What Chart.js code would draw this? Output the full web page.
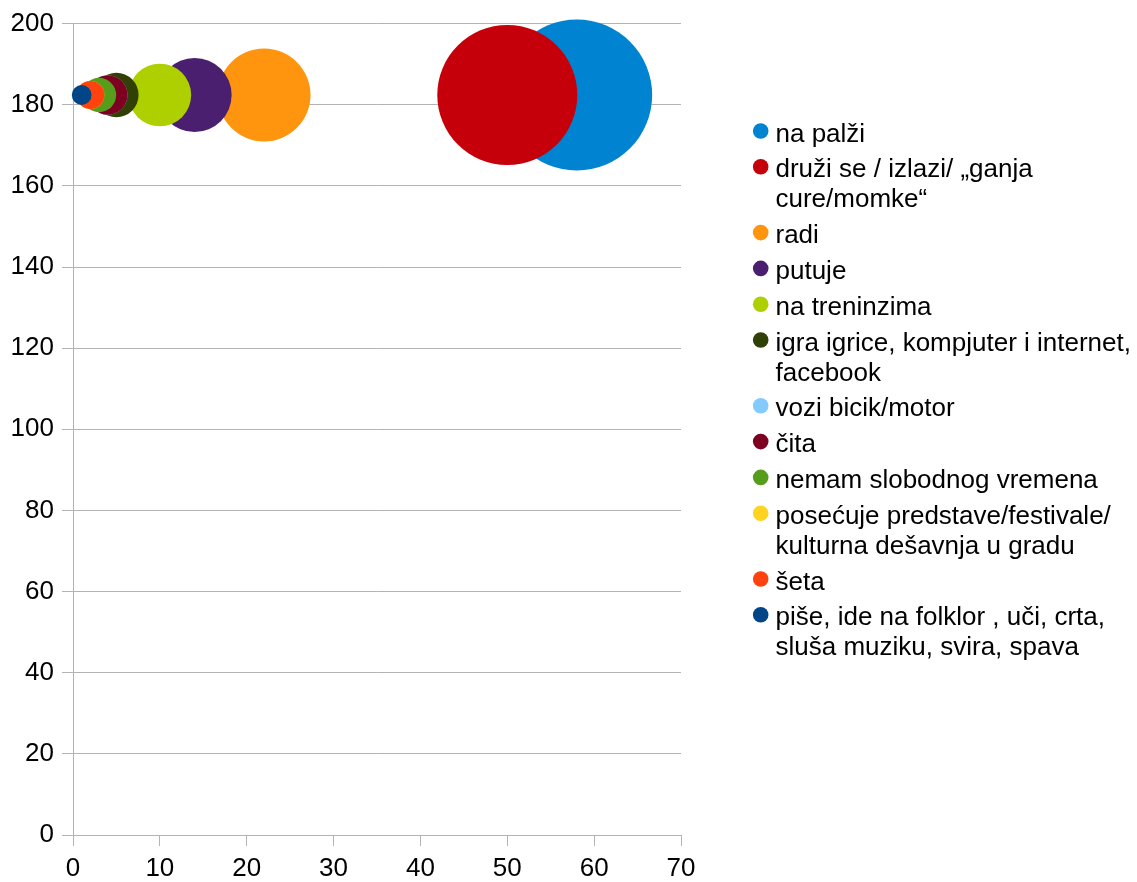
<!DOCTYPE html>
<html>
<head>
<meta charset="utf-8">
<script src="https://cdn.jsdelivr.net/npm/chart.js@4.4.1/dist/chart.umd.min.js"></script>
<style>
  html, body { margin: 0; padding: 0; background: #fff; }
  canvas { display: block; }
</style>
</head>
<body>
<canvas id="bubbleChart" width="1137" height="882"></canvas>
<script>
// each category is split into the lines shown in the legend
const categories = [
  ["na palži"],
  ["druži se / izlazi/ „ganja", "cure/momke“"],
  ["radi"],
  ["putuje"],
  ["na treninzima"],
  ["igra igrice, kompjuter i internet,", "facebook"],
  ["vozi bicik/motor"],
  ["čita"],
  ["nemam slobodnog vremena"],
  ["posećuje predstave/festivale/", "kulturna dešavnja u gradu"],
  ["šeta"],
  ["piše, ide na folklor , uči, crta,", "sluša muziku, svira, spava"],
];
const xValues = [58, 50, 22, 14, 10, 5, 4, 4, 3, 2, 2, 1];
const yValues = [182.4, 182.4, 182.4, 182.4, 182.4, 182.4, 182.4, 182.4, 182.4, 182.4, 182.4, 182.4];
const bubbleSizes = [58, 50, 22, 14, 10, 5, 4, 4, 3, 2, 2, 1];
const colors = [
  "#0084d1", "#c5000b", "#ff950e", "#4b1f6f", "#aecf00", "#314004",
  "#83caff", "#7e0021", "#579d1c", "#ffd320", "#ff420e", "#004586",
];
const xRange = [0, 70];
const yRange = [0, 200];

const FONT = "'Liberation Sans', Arial, sans-serif";
const GRID = "#b3b3b3";
// bubble area is proportional to size
const bubbleScale = 9.9;

const datasets = categories.map((lines, i) => ({
  label: lines.join(" "),
  data: [{ x: xValues[i], y: yValues[i], r: bubbleScale * Math.sqrt(bubbleSizes[i]) }],
  backgroundColor: colors[i],
  borderWidth: 0,
  hoverBorderWidth: 0,
  clip: false,
  order: categories.length - i, // later series drawn on top
}));

const sideLegend = {
  id: "sideLegend",
  afterDraw(chart) {
    const ctx = chart.ctx;
    let y = 131;
    ctx.save();
    ctx.font = "26px " + FONT;
    ctx.textAlign = "left";
    ctx.textBaseline = "alphabetic";
    categories.forEach((lines, i) => {
      ctx.fillStyle = colors[i];
      ctx.beginPath();
      ctx.arc(760.7, y, 7.8, 0, Math.PI * 2);
      ctx.fill();
      ctx.fillStyle = "#000";
      lines.forEach((line, j) => ctx.fillText(line, 775.5, y + 10.5 + j * 30));
      y += lines.length * 30 + 5.8;
    });
    ctx.restore();
  },
};

const ctx = document.getElementById("bubbleChart");

const chart = new Chart(ctx, {
  type: "bubble",
  data: { datasets },
  plugins: [sideLegend],
  options: {
    responsive: false,
    animation: false,
    events: [],
    layout: { autoPadding: false, padding: { left: 0, top: 21, right: 456, bottom: 0 } },
    plugins: {
      legend: { display: false },
      tooltip: { enabled: false },
    },
    scales: {
      x: {
        type: "linear",
        min: xRange[0],
        max: xRange[1],
        afterFit: (scale) => { scale.height = 47; },
        ticks: { stepSize: 10, color: "#000", font: { family: FONT, size: 26 }, padding: 7, maxRotation: 0 },
        grid: {
          color: (c) => (c.index === 0 || c.value === xRange[1] ? GRID : "rgba(0,0,0,0)"),
          tickColor: GRID,
          tickLength: 11,
          lineWidth: 1,
        },
        border: { color: GRID },
      },
      y: {
        type: "linear",
        min: yRange[0],
        max: yRange[1],
        afterFit: (scale) => { scale.width = 73; },
        ticks: { stepSize: 20, color: "#000", font: { family: FONT, size: 26 }, padding: 8 },
        grid: { color: GRID, tickColor: GRID, tickLength: 11, lineWidth: 1 },
        border: { color: GRID },
      },
    },
  },
});
</script>
</body>
</html>
